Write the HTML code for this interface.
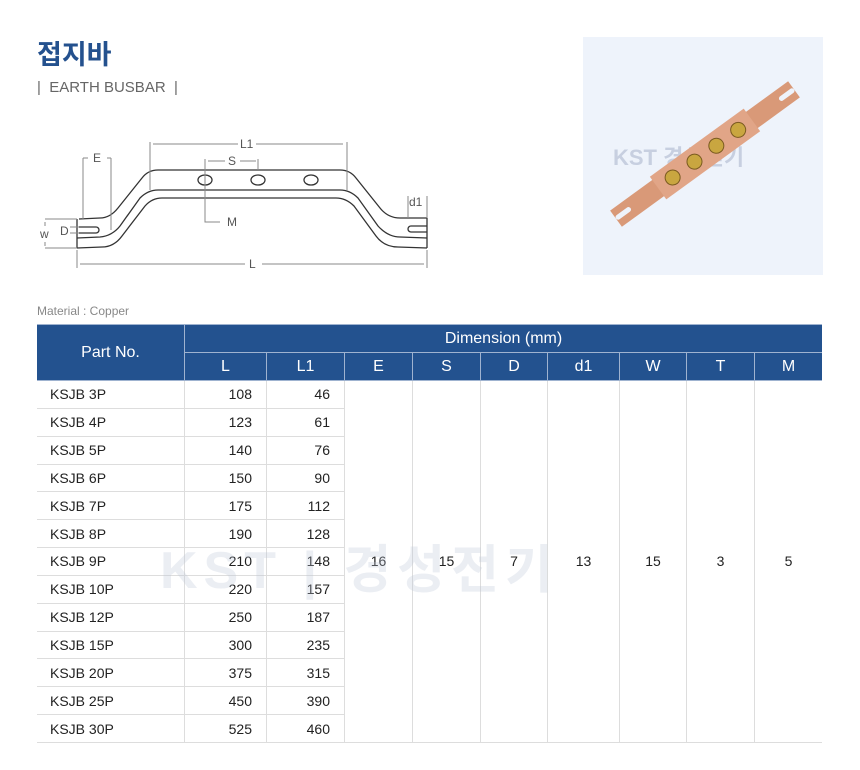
<!DOCTYPE html>
<html><head><meta charset="utf-8"><style>
body{margin:0;width:860px;height:770px;background:#fff;font-family:"Liberation Sans","Noto Sans CJK KR",sans-serif;position:relative;overflow:hidden}
.t{position:absolute;left:37px;top:33px;font-size:27px;color:#24518e;font-weight:bold;font-family:"Noto Sans CJK KR",sans-serif}
.st{position:absolute;left:37px;top:79px;font-size:15px;color:#666}
.mat{position:absolute;left:37px;top:304px;font-size:12px;color:#888}
table{position:absolute;left:37px;top:324px;border-collapse:collapse;font-size:14px;color:#222}
td,th{padding:0;height:26.85px;border:1px solid #ddd}
tr td:first-child,tr th:first-child{border-left:none}
tr td:last-child,tr th:last-child{border-right:none}
th{background:#23528f;color:#fff;font-weight:normal;font-size:16px;border:1px solid #9fb3d0;height:27px}
td.n{text-align:right;padding-right:14px}
td.p{padding-left:13px}
td.c{text-align:center;font-size:14px}
.wm{position:absolute;left:160px;top:528px;font-size:52px;color:rgba(190,200,215,0.3);font-weight:bold;letter-spacing:6px}
</style></head><body>
<div class="t">접지바</div>
<div class="st">|&nbsp; EARTH BUSBAR &nbsp;|</div>
<svg style="position:absolute;left:0;top:0" width="450" height="290" font-family="Liberation Sans" font-size="12" fill="#555">
<g fill="none" stroke="#333" stroke-width="1.3">
<path d="M79 219 L100 218 Q110 218 118 208 L142 178 Q148 170 158 170 L340 170 Q350 170 356 178 L380 208 Q388 218 400 218 L427 218"/>
<path d="M77 238 L100 237 Q112 236 120 226 L140 198 Q148 190 158 190 L340 190 Q350 190 358 198 L378 226 Q388 237 400 237 L427 238"/>
<path d="M77 248 L102 247 Q114 247 122 236 L145 206 Q152 198 162 198 L336 198 Q346 198 354 206 L376 236 Q384 247 398 247 L427 248"/>
<path d="M77 219 L77 248 M427 218 L427 248"/>
<path d="M79 227 L96 227 A3 3 0 0 1 96 233 L79 233"/>
<path d="M427 226 L411 226 A3 3 0 0 0 411 232 L427 232"/>
<ellipse cx="205" cy="180" rx="7" ry="5"/><ellipse cx="258" cy="180" rx="7" ry="5"/><ellipse cx="311" cy="180" rx="7" ry="5"/>
</g>
<g fill="none" stroke="#888" stroke-width="1">
<path d="M150 142 L150 190 M347 142 L347 190"/>
<path d="M153 144 L238 144 M256 144 L343 144"/>
<path d="M208 161 L225 161 M240 161 L256 161 M258 159 L258 170"/>
<path d="M205 159 L205 222 L220 222"/>
<path d="M83 158 L83 219 M111 158 L111 230 M83 158 L88 158 M111 158 L107 158"/>
<path d="M408 196 L408 218 M427 196 L427 218"/>
<path d="M45 219 L77 219 M45 248 L77 248 M45 222 L45 226 M45 242 L45 246"/>
<path d="M70 227 L79 227 M70 233 L79 233"/>
<path d="M77 250 L77 268 M427 250 L427 268 M80 264 L245 264 M262 264 L424 264"/>
</g>
<text x="240" y="148">L1</text><text x="228" y="165">S</text><text x="227" y="226">M</text>
<text x="93" y="162">E</text><text x="409" y="206">d1</text><text x="40" y="238">w</text><text x="60" y="235">D</text><text x="249" y="268">L</text>
</svg>
<div style="position:absolute;left:583px;top:37px;width:240px;height:238px;background:#eef3fb;overflow:hidden">
<svg width="240" height="238">
<text x="30" y="128" font-size="22" fill="rgba(150,165,190,0.45)" font-weight="bold" font-family="Liberation Sans,Noto Sans CJK KR">KST 경성전기</text>
<g transform="translate(122,117) rotate(-36)">
<rect x="-110" y="-10" width="220" height="20" fill="#d99978"/>
<rect x="-58" y="-14" width="116" height="28" fill="#e1a587"/>
<rect x="-110" y="-2.5" width="18" height="5" rx="2.5" fill="#eef3fb"/>
<rect x="92" y="-2.5" width="18" height="5" rx="2.5" fill="#eef3fb"/>
<g fill="#c9a640" stroke="#7a5a20"><circle cx="-40" cy="0" r="7.5"/><circle cx="-13" cy="0" r="7.5"/><circle cx="14" cy="0" r="7.5"/><circle cx="41" cy="0" r="7.5"/></g>
</g>
</svg></div>
<div class="mat">Material : Copper</div>
<table>
<tr><th rowspan="2" style="width:147px;height:54px">Part No.</th><th colspan="9">Dimension (mm)</th></tr>
<tr><th style="width:81px">L</th><th style="width:77px">L1</th><th style="width:67px">E</th><th style="width:67px">S</th><th style="width:66px">D</th><th style="width:71px">d1</th><th style="width:66px">W</th><th style="width:67px">T</th><th style="width:67px">M</th></tr>
<tr><td class="p">KSJB 3P</td><td class="n">108</td><td class="n">46</td><td class="c" rowspan="13">16</td><td class="c" rowspan="13">15</td><td class="c" rowspan="13">7</td><td class="c" rowspan="13">13</td><td class="c" rowspan="13">15</td><td class="c" rowspan="13">3</td><td class="c" rowspan="13" style="border-right:none">5</td></tr>
<tr><td class="p">KSJB 4P</td><td class="n">123</td><td class="n">61</td></tr>
<tr><td class="p">KSJB 5P</td><td class="n">140</td><td class="n">76</td></tr>
<tr><td class="p">KSJB 6P</td><td class="n">150</td><td class="n">90</td></tr>
<tr><td class="p">KSJB 7P</td><td class="n">175</td><td class="n">112</td></tr>
<tr><td class="p">KSJB 8P</td><td class="n">190</td><td class="n">128</td></tr>
<tr><td class="p">KSJB 9P</td><td class="n">210</td><td class="n">148</td></tr>
<tr><td class="p">KSJB 10P</td><td class="n">220</td><td class="n">157</td></tr>
<tr><td class="p">KSJB 12P</td><td class="n">250</td><td class="n">187</td></tr>
<tr><td class="p">KSJB 15P</td><td class="n">300</td><td class="n">235</td></tr>
<tr><td class="p">KSJB 20P</td><td class="n">375</td><td class="n">315</td></tr>
<tr><td class="p">KSJB 25P</td><td class="n">450</td><td class="n">390</td></tr>
<tr><td class="p">KSJB 30P</td><td class="n">525</td><td class="n">460</td></tr>
</table>
<div class="wm">KST | 경성전기</div>
</body></html>
